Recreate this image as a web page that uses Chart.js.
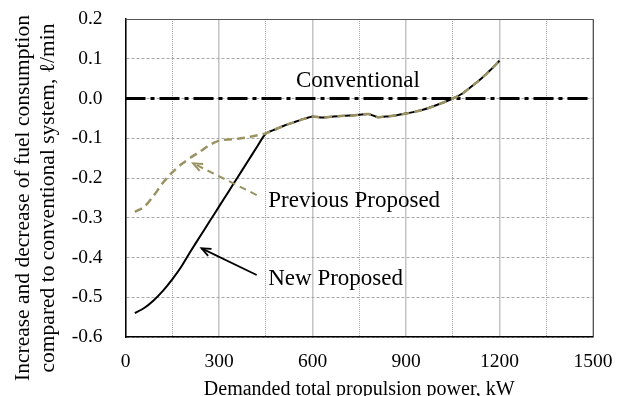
<!DOCTYPE html>
<html>
<head>
<meta charset="utf-8">
<script src="https://cdn.jsdelivr.net/npm/chart.js"></script>
<style>
  html, body { margin: 0; padding: 0; background: #fff; }
  #wrap { width: 626px; height: 396px; position: relative; }
</style>
</head>
<body>
<div id="wrap"><canvas id="chart"></canvas></div>
<script>
// Demanded power, kW
const powerNew = [30, 60, 90, 120, 150, 180, 210, 240, 270, 300, 330, 360, 390, 420, 450,
  480, 510, 540, 570, 600, 630, 660, 690, 720, 750, 780, 810, 840, 870, 900,
  930, 960, 990, 1020, 1050, 1080, 1110, 1140, 1170, 1200];
// New Proposed, l/min
const newProposed = [-0.540, -0.527, -0.508, -0.484, -0.455, -0.422, -0.383, -0.346, -0.309, -0.272, -0.235, -0.198, -0.161, -0.124, -0.088,
  -0.078, -0.068, -0.060, -0.052, -0.045, -0.048, -0.046, -0.044, -0.043, -0.041, -0.039, -0.047, -0.045, -0.042, -0.038,
  -0.033, -0.027, -0.019, -0.010, 0.000, 0.012, 0.030, 0.049, 0.071, 0.095];
// Previous Proposed, l/min (same x values)
const previousProposed = [-0.285, -0.273, -0.245, -0.212, -0.186, -0.165, -0.148, -0.133, -0.117, -0.106, -0.103, -0.101, -0.098, -0.093, -0.088,
  -0.078, -0.068, -0.060, -0.052, -0.045, -0.048, -0.046, -0.044, -0.043, -0.041, -0.039, -0.047, -0.045, -0.042, -0.038,
  -0.033, -0.027, -0.019, -0.010, 0.000, 0.012, 0.030, 0.049, 0.071, 0.095];
// Conventional baseline
const powerConv = [0, 1490];
const conventional = [0, 0];

const xTicks = [0, 300, 600, 900, 1200, 1500];
const yTicks = [-0.6, -0.5, -0.4, -0.3, -0.2, -0.1, 0.0, 0.1, 0.2];

const serif = "'Liberation Serif', 'Times New Roman', serif";
const olive = '#9a9262';

// annotations: text and arrows in data coordinates
const labels = [
  { text: 'Conventional', x: 547, y: 0.030 },
  { text: 'Previous Proposed', x: 458, y: -0.272 },
  { text: 'New Proposed', x: 458, y: -0.469 }
];
const arrows = [
  { from: [421, -0.243], to: [217, -0.163], color: olive, dash: [7, 5], width: 2 },
  { from: [421, -0.444], to: [244, -0.377], color: '#000', dash: [], width: 1.8 }
];

const annotatePlugin = {
  id: 'annotate',
  afterDatasetsDraw(chart) {
    const { ctx, chartArea: a } = chart;
    const xs = chart.scales.x, ys = chart.scales.y;
    ctx.save();
    // top and right frame
    ctx.strokeStyle = '#555';
    ctx.lineWidth = 1;
    ctx.beginPath();
    ctx.moveTo(a.left, a.top + 0.5);
    ctx.lineTo(a.right + 0.5, a.top + 0.5);
    ctx.lineTo(a.right + 0.5, a.bottom);
    ctx.stroke();

    arrows.forEach(ar => {
      const x1 = xs.getPixelForValue(ar.from[0]), y1 = ys.getPixelForValue(ar.from[1]);
      const x2 = xs.getPixelForValue(ar.to[0]), y2 = ys.getPixelForValue(ar.to[1]);
      ctx.strokeStyle = ar.color;
      ctx.lineWidth = ar.width;
      ctx.setLineDash(ar.dash);
      ctx.beginPath();
      ctx.moveTo(x1, y1);
      ctx.lineTo(x2, y2);
      ctx.stroke();
      ctx.setLineDash([]);
      const ang = Math.atan2(y2 - y1, x2 - x1);
      const len = 10;
      ctx.beginPath();
      ctx.moveTo(x2 - len * Math.cos(ang - 0.4), y2 - len * Math.sin(ang - 0.4));
      ctx.lineTo(x2, y2);
      ctx.lineTo(x2 - len * Math.cos(ang + 0.4), y2 - len * Math.sin(ang + 0.4));
      ctx.stroke();
    });

    ctx.fillStyle = '#000';
    ctx.font = '23px ' + serif;
    ctx.textAlign = 'left';
    ctx.textBaseline = 'alphabetic';
    labels.forEach(l => {
      ctx.fillText(l.text, xs.getPixelForValue(l.x), ys.getPixelForValue(l.y));
    });

    // y axis title, two lines, rotated
    ctx.font = '21.5px ' + serif;
    ctx.textAlign = 'center';
    ctx.textBaseline = 'middle';
    ctx.translate(0, 198);
    ctx.rotate(-Math.PI / 2);
    ctx.fillText('Increase and decrease of fuel consumption', 0, 23);
    ctx.fillText('compared to conventional system, \u2113/min', 0, 48);
    ctx.restore();
  }
};

new Chart(document.getElementById('chart'), {
  type: 'line',
  data: {
    datasets: [
      {
        label: 'Previous Proposed',
        data: powerNew.map((x, i) => ({ x, y: previousProposed[i] })),
        borderColor: olive,
        borderWidth: 2.5,
        borderDash: [8, 5],
        pointRadius: 0,
        tension: 0.2,
        fill: false
      },
      {
        label: 'New Proposed',
        data: powerNew.map((x, i) => ({ x, y: newProposed[i] })),
        borderColor: '#000',
        borderWidth: 2,
        pointRadius: 0,
        tension: 0.2,
        fill: false
      },
      {
        label: 'Conventional',
        data: powerConv.map((x, i) => ({ x, y: conventional[i] })),
        borderColor: '#000',
        borderWidth: 3,
        borderDash: [20, 5, 4, 5],
        pointRadius: 0,
        fill: false
      }
    ]
  },
  options: {
    responsive: true,
    maintainAspectRatio: false,
    animation: false,
    layout: { padding: { top: 0, right: 33, left: 0, bottom: 0 } },
    plugins: { legend: { display: false }, tooltip: { enabled: false } },
    scales: {
      x: {
        type: 'linear',
        min: 0, max: 1500,
        afterBuildTicks: s => {
          s.ticks = [];
          for (let v = 0; v <= 1500; v += 150) s.ticks.push({ value: v });
        },
        afterFit: s => { s.height = 59; s.paddingRight = 0; s.paddingLeft = 0; },
        ticks: {
          color: '#000',
          padding: 13,
          maxRotation: 0,
          autoSkip: false,
          font: { family: serif, size: 19.5 },
          callback: v => xTicks.includes(v) ? String(v) : ''
        },
        grid: {
          drawTicks: false,
          color: ctx => ctx.tick && ctx.tick.value % 300 === 0 ? '#c4c4c4' : '#a8a8a8',
          lineWidth: ctx => ctx.tick && ctx.tick.value % 300 === 0 ? 1.5 : 1
        },
        border: {
          color: '#000',
          width: 1.5,
          dash: ctx => ctx.tick && ctx.tick.value % 300 === 0 ? [] : [1, 1]
        },
        title: {
          display: true,
          text: 'Demanded total propulsion power, kW',
          color: '#000',
          font: { family: serif, size: 20, lineHeight: 1 },
          padding: { top: 0, bottom: -4 }
        }
      },
      y: {
        min: -0.6, max: 0.2,
        afterBuildTicks: s => { s.ticks = yTicks.map(v => ({ value: v })); },
        afterFit: s => { s.width = 125.5; s.paddingTop = 19; s.paddingBottom = 0; },
        ticks: {
          color: '#000',
          padding: 23,
          font: { family: serif, size: 19.5 },
          callback: v => (Math.abs(v) < 1e-9 ? 0 : v).toFixed(1)
        },
        grid: {
          drawTicks: false,
          color: '#a8a8a8',
          lineWidth: 1
        },
        border: {
          color: '#000',
          width: 1.5,
          dash: [3, 2]
        }
      }
    }
  },
  plugins: [annotatePlugin]
});
</script>
</body>
</html>
